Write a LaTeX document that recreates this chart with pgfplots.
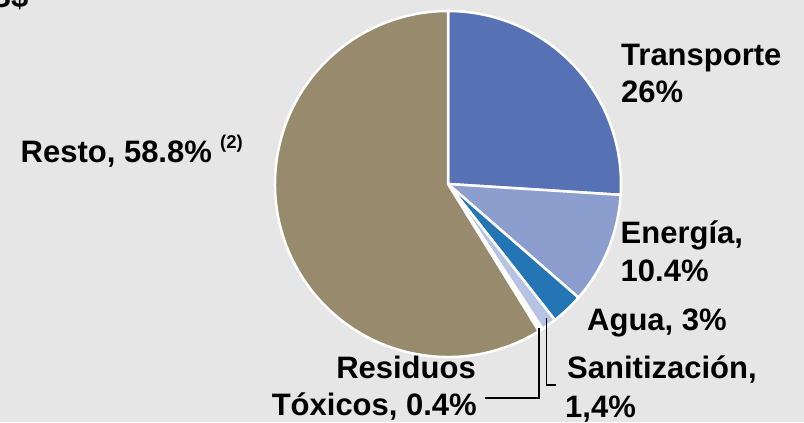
\documentclass[border=0pt]{standalone}
\usepackage{pgfplots}
\pgfplotsset{compat=1.18}
\usepackage{fontspec}
\setmainfont{Liberation Sans}
\definecolor{bg}{RGB}{230,230,230}
\definecolor{cT}{RGB}{86,113,180}
\definecolor{cE}{RGB}{139,158,206}
\definecolor{cA}{RGB}{36,117,180}
\definecolor{cS}{RGB}{182,195,226}
\definecolor{cR}{RGB}{250,250,252}
\definecolor{cO}{RGB}{152,139,109}
\newcommand\lab{\fontsize{31bp}{36bp}\selectfont\bfseries}
\begin{document}
\begin{tikzpicture}
\begin{axis}[name=a, hide axis, x=1bp, y=1bp, xmin=0, xmax=804, ymin=0, ymax=422, clip=false]
\fill[bg] (axis cs:0,0) rectangle (axis cs:804,422);
\xdef\startang{90}
\foreach \v/\c in {26/cT, 10.4/cE, 3/cA, 1.4/cS, 0.4/cR, 58.8/cO}{
  \pgfmathsetmacro\endang{\startang-3.6*\v}
  \edef\temp{\noexpand\filldraw[fill=\c, draw=white, line width=2.5bp, line join=round] (axis cs:448,238) -- ++(\startang:173bp) arc[start angle=\startang, end angle=\endang, radius=173bp] -- cycle;}
  \temp
  \xdef\startang{\endang}
}
% leader lines
\draw[black, line width=1.3bp] (axis cs:546.7,104) -- (axis cs:546.7,37) -- (axis cs:556,37);
\draw[black, line width=1.3bp] (axis cs:539,94) -- (axis cs:539,24) -- (axis cs:485,24);
% labels
\node[anchor=base west, inner sep=0pt] at (axis cs:621,357) {\lab Transporte};
\node[anchor=base west, inner sep=0pt] at (axis cs:621,320) {\lab 26\%};
\node[anchor=base west, inner sep=0pt] at (axis cs:620.5,179) {\lab Energía,};
\node[anchor=base west, inner sep=0pt] at (axis cs:620.5,141) {\lab 10.4\%};
\node[anchor=base west, inner sep=0pt] at (axis cs:587,92) {\lab Agua, 3\%};
\node[anchor=base west, inner sep=0pt] at (axis cs:567,44) {\lab Sanitización,};
\node[anchor=base west, inner sep=0pt] at (axis cs:565,5) {\lab 1,4\%};
\node[anchor=base east, inner sep=0pt] at (axis cs:476,44) {\lab Residuos};
\node[anchor=base east, inner sep=0pt] at (axis cs:477,7) {\lab Tóxicos, 0.4\%};
\node[anchor=base west, inner sep=0pt] at (axis cs:20.5,260) {\lab Resto, 58.8\%};
\node[anchor=base west, inner sep=0pt] at (axis cs:220,274) {\fontsize{18.5bp}{20bp}\selectfont\bfseries (2)};
\node[anchor=base east, inner sep=0pt] at (axis cs:28.5,414) {\lab US\$};
\end{axis}
\pgfresetboundingbox
\path (a.south west) rectangle (a.north east);
\end{tikzpicture}
\end{document}
